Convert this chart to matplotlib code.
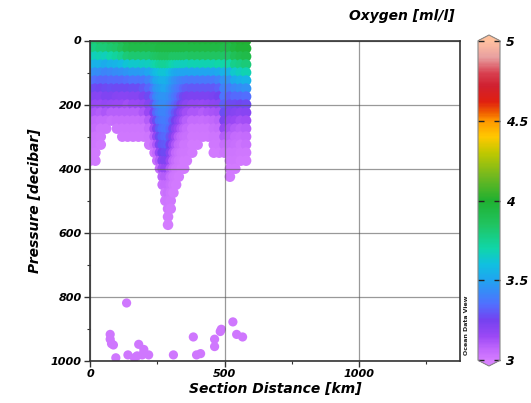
import numpy as np
import matplotlib
matplotlib.use("Agg")
import matplotlib.pyplot as plt
from matplotlib.colors import LinearSegmentedColormap, Normalize
from matplotlib.cm import ScalarMappable

# ---------------- data ----------------
# station distance [km] -> oxygen [ml/l] at pressures 0, 25, 50, ... dbar
station_km = [0, 20, 40, 60, 80, 100, 120, 140, 160, 180, 200, 220, 240,
              250, 260, 270, 280, 290, 300, 310, 320, 330, 340, 350, 360,
              380, 400, 420, 440, 460, 480, 500, 520, 540, 560, 580]
level_step = 25
station_oxygen = [
    [3.80, 3.76, 3.66, 3.55, 3.45, 3.36, 3.28, 3.22, 3.17, 3.12, 3.08, 3.05, 3.03, 3.02, 3.01, 3.01],
    [3.82, 3.78, 3.67, 3.55, 3.44, 3.35, 3.27, 3.21, 3.16, 3.11, 3.07, 3.05, 3.03, 3.02, 3.01, 3.01],
    [3.85, 3.80, 3.68, 3.55, 3.43, 3.33, 3.26, 3.20, 3.15, 3.10, 3.06, 3.03, 3.02, 3.01],
    [3.85, 3.80, 3.67, 3.53, 3.41, 3.33, 3.27, 3.22, 3.17, 3.11, 3.06, 3.03],
    [3.87, 3.82, 3.70, 3.55, 3.42, 3.34, 3.28, 3.22, 3.16, 3.09, 3.04],
    [3.88, 3.83, 3.72, 3.56, 3.43, 3.34, 3.27, 3.21, 3.15, 3.09, 3.05, 3.03],
    [3.90, 3.86, 3.75, 3.58, 3.44, 3.34, 3.27, 3.20, 3.15, 3.09, 3.05, 3.03, 3.02],
    [3.93, 3.90, 3.80, 3.62, 3.46, 3.35, 3.27, 3.20, 3.14, 3.09, 3.05, 3.03, 3.02],
    [3.95, 3.92, 3.82, 3.64, 3.47, 3.36, 3.28, 3.21, 3.15, 3.09, 3.05, 3.03, 3.02],
    [3.95, 3.92, 3.82, 3.64, 3.47, 3.36, 3.28, 3.21, 3.15, 3.09, 3.05, 3.03, 3.02],
    [3.95, 3.92, 3.82, 3.65, 3.48, 3.37, 3.30, 3.23, 3.17, 3.11, 3.06, 3.03, 3.02],
    [3.95, 3.92, 3.82, 3.66, 3.50, 3.40, 3.33, 3.27, 3.21, 3.15, 3.10, 3.06, 3.03, 3.02],
    [3.95, 3.92, 3.83, 3.68, 3.54, 3.45, 3.39, 3.34, 3.29, 3.24, 3.19, 3.14, 3.09, 3.05, 3.03],
    [3.95, 3.92, 3.84, 3.70, 3.58, 3.50, 3.45, 3.41, 3.37, 3.33, 3.28, 3.23, 3.17, 3.11, 3.07, 3.04],
    [3.95, 3.93, 3.85, 3.72, 3.60, 3.52, 3.47, 3.44, 3.41, 3.38, 3.35, 3.31, 3.27, 3.22, 3.16, 3.10, 3.05],
    [3.96, 3.93, 3.86, 3.74, 3.62, 3.54, 3.49, 3.46, 3.43, 3.41, 3.38, 3.35, 3.32, 3.29, 3.25, 3.20, 3.14, 3.08, 3.04],
    [3.96, 3.93, 3.86, 3.74, 3.62, 3.54, 3.50, 3.46, 3.43, 3.41, 3.39, 3.36, 3.33, 3.30, 3.27, 3.22, 3.16, 3.10, 3.06, 3.03, 3.02],
    [3.96, 3.93, 3.86, 3.74, 3.62, 3.54, 3.50, 3.46, 3.43, 3.41, 3.39, 3.37, 3.34, 3.31, 3.27, 3.22, 3.16, 3.10, 3.06, 3.04, 3.03, 3.02, 3.01, 3.00],
    [3.96, 3.93, 3.86, 3.72, 3.60, 3.52, 3.47, 3.44, 3.41, 3.39, 3.36, 3.33, 3.29, 3.25, 3.20, 3.15, 3.10, 3.06, 3.04, 3.03, 3.02, 3.01],
    [3.96, 3.93, 3.84, 3.70, 3.56, 3.48, 3.44, 3.41, 3.38, 3.35, 3.31, 3.27, 3.22, 3.17, 3.12, 3.08, 3.05, 3.03, 3.02, 3.01],
    [3.96, 3.93, 3.84, 3.68, 3.53, 3.45, 3.41, 3.38, 3.34, 3.30, 3.25, 3.20, 3.15, 3.11, 3.07, 3.05, 3.03, 3.02, 3.01],
    [3.96, 3.93, 3.84, 3.67, 3.51, 3.43, 3.39, 3.35, 3.31, 3.26, 3.21, 3.15, 3.10, 3.07, 3.04, 3.03, 3.02, 3.01],
    [3.96, 3.93, 3.84, 3.67, 3.50, 3.41, 3.36, 3.31, 3.26, 3.21, 3.16, 3.11, 3.07, 3.05, 3.03, 3.02, 3.01],
    [3.96, 3.93, 3.84, 3.67, 3.50, 3.40, 3.33, 3.27, 3.22, 3.17, 3.12, 3.08, 3.05, 3.03, 3.02, 3.01, 3.01],
    [3.96, 3.93, 3.84, 3.67, 3.50, 3.39, 3.31, 3.24, 3.19, 3.14, 3.09, 3.06, 3.04, 3.03, 3.02, 3.01],
    [3.97, 3.93, 3.85, 3.68, 3.50, 3.38, 3.30, 3.23, 3.17, 3.11, 3.06, 3.03, 3.02, 3.01, 3.01],
    [3.97, 3.93, 3.85, 3.68, 3.50, 3.38, 3.30, 3.23, 3.17, 3.11, 3.06, 3.03, 3.02, 3.01],
    [3.97, 3.93, 3.85, 3.68, 3.50, 3.38, 3.30, 3.23, 3.16, 3.10, 3.05, 3.03, 3.02],
    [3.97, 3.93, 3.85, 3.68, 3.50, 3.38, 3.30, 3.23, 3.17, 3.11, 3.06, 3.03, 3.02],
    [3.97, 3.93, 3.85, 3.68, 3.50, 3.38, 3.30, 3.24, 3.18, 3.12, 3.07, 3.04, 3.03, 3.02, 3.01],
    [3.97, 3.93, 3.85, 3.70, 3.52, 3.40, 3.32, 3.25, 3.19, 3.13, 3.08, 3.05, 3.03, 3.02, 3.01],
    [3.96, 3.92, 3.84, 3.70, 3.55, 3.45, 3.40, 3.36, 3.32, 3.28, 3.23, 3.16, 3.10, 3.05, 3.03],
    [3.96, 3.92, 3.84, 3.70, 3.55, 3.45, 3.38, 3.32, 3.27, 3.22, 3.17, 3.12, 3.08, 3.05, 3.03, 3.02, 3.01, 3.01],
    [3.98, 3.95, 3.88, 3.76, 3.64, 3.52, 3.42, 3.34, 3.27, 3.21, 3.15, 3.10, 3.06, 3.04, 3.03, 3.02, 3.01],
    [4.00, 3.97, 3.90, 3.78, 3.66, 3.54, 3.43, 3.34, 3.26, 3.19, 3.13, 3.08, 3.05, 3.03, 3.02, 3.01],
    [4.00, 3.97, 3.92, 3.80, 3.68, 3.56, 3.45, 3.35, 3.27, 3.20, 3.14, 3.09, 3.06, 3.04, 3.02, 3.01],
]

# isolated deep samples
deep_km = [136, 75, 75, 80, 87, 96, 141, 165, 181, 200, 194, 218, 175, 310,
           384, 396, 411, 463, 463, 484, 488, 531, 545, 567]
deep_p = [819, 917, 932, 946, 950, 990, 981, 990, 948, 964, 981, 981, 984, 981,
          925, 981, 977, 932, 955, 908, 901, 878, 917, 925]
deep_oxygen = [3.02] * len(deep_km)

cbar_ticks = [3, 3.5, 4, 4.5, 5]
cbar_labels = ["3", "3.5", "4", "4.5", "5"]

# ---------------- colormap (ODV-like) ----------------
cmap_nodes = [
    (0.000, "#d47cff"), (0.035, "#bf66fc"), (0.075, "#9a48f5"),
    (0.125, "#7442f0"), (0.175, "#5070ff"), (0.250, "#20a4f0"),
    (0.300, "#10c0e0"), (0.350, "#10d6a8"), (0.425, "#20c460"),
    (0.500, "#20b030"), (0.575, "#70b820"), (0.650, "#c0c800"),
    (0.700, "#ffc800"), (0.750, "#ff9800"), (0.775, "#f06000"),
    (0.810, "#e02010"), (0.860, "#d02030"), (0.900, "#d84050"),
    (0.950, "#e8a0a0"), (1.000, "#ffc0a0"),
]
cmap = LinearSegmentedColormap.from_list("odv", cmap_nodes)
cmap.set_under("#d880ff")
cmap.set_over("#ffc09c")
norm = Normalize(vmin=3, vmax=5)

# ---------------- figure ----------------
fig = plt.figure(figsize=(5.31, 4.03), dpi=100)
ax = fig.add_axes([90 / 531, 1 - 361 / 403, 370 / 531, 320.5 / 403])

xs, ps, vs = [], [], []
for km, prof in zip(station_km, station_oxygen):
    for i, v in enumerate(prof):
        xs.append(km)
        ps.append(i * level_step)
        vs.append(v)

ax.scatter(xs, ps, c=vs, cmap=cmap, norm=norm, s=58, linewidths=0, zorder=1)
ax.scatter(deep_km, deep_p, c=deep_oxygen, cmap=cmap, norm=norm, s=44,
           linewidths=0, zorder=1)

ax.set_xlim(0, 1375)
ax.set_ylim(1000, 0)

fp = dict(family="DejaVu Sans", weight="bold", style="italic")
ax.set_xticks([0, 500, 1000])
ax.set_xticks([250, 750, 1250], minor=True)
ax.set_yticks([0, 200, 400, 600, 800, 1000])
ax.set_yticks([100, 300, 500, 700, 900], minor=True)
ax.tick_params(which="major", length=4, width=1, color="#333333", pad=2)
ax.tick_params(which="minor", length=2.5, width=0.8, color="#333333")
for lab in ax.get_xticklabels() + ax.get_yticklabels():
    lab.set_fontsize(8)
    lab.set_fontweight("bold")
    lab.set_fontstyle("italic")
ax.grid(True, which="major", color="#555555", alpha=0.6, lw=0.9, zorder=3)
ax.set_axisbelow(False)
for s in ax.spines.values():
    s.set_color("#333333")
    s.set_linewidth(1.2)
    s.set_zorder(4)

ax.set_xlabel("Section Distance [km]", fontsize=10, labelpad=2, **fp)
ax.set_ylabel("Pressure [decibar]", fontsize=10, labelpad=6, **fp)

# colorbar
cax = fig.add_axes([478 / 531, 1 - 366 / 403, 22 / 531, 331 / 403])
sm = ScalarMappable(norm=norm, cmap=cmap)
cb = fig.colorbar(sm, cax=cax, extend="both", extendfrac=0.018, ticks=cbar_ticks)
cb.ax.set_yticklabels(cbar_labels)
cb.outline.set_edgecolor("#888888")
cb.outline.set_linewidth(0.8)
cax.tick_params(direction="in", left=True, right=True, length=4, width=1,
                color="#222222", pad=4)
for lab in cax.get_yticklabels():
    lab.set_fontsize(9)
    lab.set_fontweight("bold")
    lab.set_fontstyle("italic")

fig.text(455 / 531, 1 - 16 / 403, "Oxygen [ml/l]", ha="right", va="center",
         fontsize=10, **fp)
fig.text(467 / 531, 1 - 325 / 403, "Ocean Data View", rotation=90,
         ha="center", va="center", fontsize=4.5, family="DejaVu Sans",
         weight="bold", color="#222222")

fig.savefig("out.png", dpi=100)
